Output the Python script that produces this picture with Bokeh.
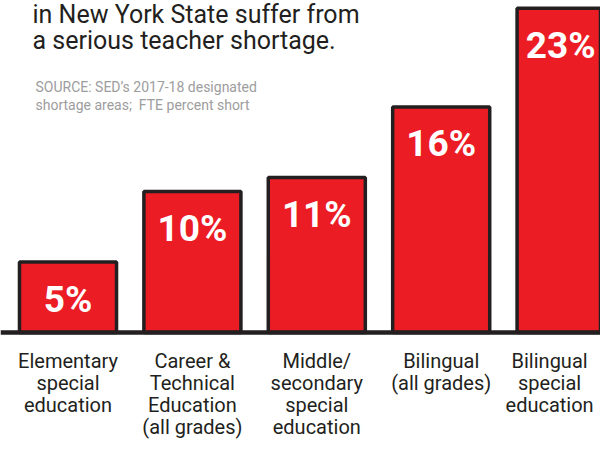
from bokeh.plotting import figure
from bokeh.models import Range1d, Label, Span, ColumnDataSource
from bokeh.core.properties import value
from bokeh.embed import file_html
from bokeh.resources import INLINE

# ---- data ----
categories = [
    "Elementary\nspecial\neducation",
    "Career &\nTechnical\nEducation\n(all grades)",
    "Middle/\nsecondary\nspecial\neducation",
    "Bilingual\n(all grades)",
    "Bilingual\nspecial\neducation",
]
shortage_pct = [5, 10, 11, 16, 23]
value_labels = [f"{v}%" for v in shortage_pct]
title_lines = ["in New York State suffer from", "a serious teacher shortage."]
source_lines = ["SOURCE: SED\u2019s 2017-18 designated", "shortage areas;\u00a0 FTE percent short"]

# ---- layout ----
W, H = 600, 440
PX_X = 124.4          # pixels per category step
PX_Y = 14.1           # pixels per percentage point
BASE_PX = 332         # baseline position from top of the frame
x0 = -67.5 / PX_X

RED = "#ec1c24"
INK = "#231f20"

p = figure(width=W, height=H, output_backend="svg", toolbar_location=None,
           x_range=Range1d(x0, x0 + W / PX_X),
           y_range=Range1d(-(H - BASE_PX) / PX_Y, BASE_PX / PX_Y),
           x_axis_location=None, y_axis_location=None,
           min_border=0)
p.grid.visible = False
p.outline_line_color = None
p.background_fill_color = "white"
p.border_fill_color = "white"

n = len(categories)
idx = list(range(n))
# keep the right-most texts inside the canvas edge
val_dx = [0] * (n - 1) + [-5]
cat_dx = [0] * (n - 1) + [-16]
src = ColumnDataSource(dict(
    x=idx,
    pct=shortage_pct,
    lbl=value_labels,
    lbl_y=[v - 37 / PX_Y for v in shortage_pct],
    cat=categories,
    vdx=val_dx,
    cdx=cat_dx,
))

p.vbar(x="x", top="pct", bottom=0, width=0.78, source=src,
       fill_color=RED, line_color=INK, line_width=3.5)

p.add_layout(Span(location=0, dimension="width", line_color=INK, line_width=4.5))

p.text(x="x", y="lbl_y", text="lbl", source=src, x_offset="vdx",
       text_color="white", text_font=value("Roboto"), text_font_style="bold",
       text_font_size="37px", text_align="center", text_baseline="middle")

p.text(x="x", y=-16 / PX_Y, text="cat", source=src, x_offset="cdx",
       text_color=INK, text_font=value("Roboto"), text_font_size="20px",
       text_align="center", text_baseline="top", text_line_height=0.92)

# title (first line is cut off at the top in the original)
title_base = [20, 46]
for line, yb in zip(title_lines, title_base):
    p.add_layout(Label(x=32, y=H - yb + 6, x_units="screen", y_units="screen",
                       text=line, text_font="Roboto",
                       text_font_size="25px", text_color=INK, text_baseline="alphabetic"))

for i, line in enumerate(source_lines):
    p.add_layout(Label(x=35, y=H - 90 + 4 - 18 * i, x_units="screen", y_units="screen",
                       text=line, text_font="Roboto", text_font_size="14px",
                       text_color="#9d9d9d", text_baseline="alphabetic"))

open("out.html", "w").write(file_html(p, INLINE))
